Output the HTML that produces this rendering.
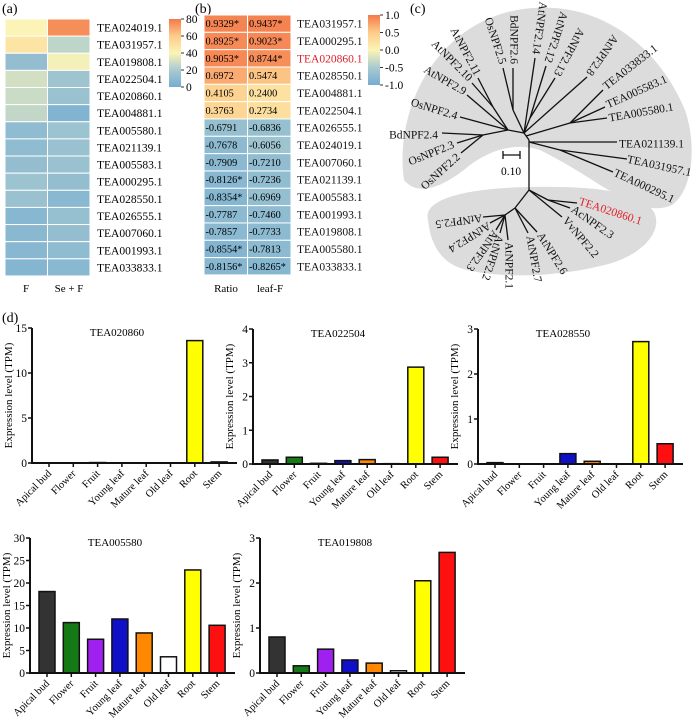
<!DOCTYPE html>
<html><head><meta charset="utf-8"><style>
html,body{margin:0;padding:0;background:#fff;}
svg{display:block;font-family:"Liberation Serif",serif;}
</style></head><body>
<svg id="fig" width="693" height="720" viewBox="0 0 693 720" xmlns="http://www.w3.org/2000/svg">
<defs>
<linearGradient id="cbar" x1="0" y1="1" x2="0" y2="0">
<stop offset="0" stop-color="#74add1"/><stop offset="0.25" stop-color="#a9cad0"/><stop offset="0.5" stop-color="#fbf4b6"/><stop offset="0.75" stop-color="#fdcc8a"/><stop offset="1" stop-color="#f4794a"/>
</linearGradient>
</defs>
<text x="2" y="13" font-size="14">(a)</text>
<text x="195" y="13" font-size="14">(b)</text>
<text x="410" y="13" font-size="14">(c)</text>
<text x="2" y="322" font-size="14">(d)</text>
<g id="ha"></g>
<g id="hb"></g>
<g id="tree"></g>
<g id="bars"></g>
</svg>
<script>
const NS="http://www.w3.org/2000/svg";
function mk(tag,attrs,parent,txt){const e=document.createElementNS(NS,tag);for(const k in attrs)e.setAttribute(k,attrs[k]);if(txt!==undefined)e.textContent=txt;parent.appendChild(e);return e;}
// ---------- heatmap data ----------
const genesA=["TEA024019.1","TEA031957.1","TEA019808.1","TEA022504.1","TEA020860.1","TEA004881.1","TEA005580.1","TEA021139.1","TEA005583.1","TEA000295.1","TEA028550.1","TEA026555.1","TEA007060.1","TEA001993.1","TEA033833.1"];
const valsF=[40,48,12,30,28,26,10,10,12,15,14,7,8,7,6];
const valsSeF=[75,25,38,16,14,5,15,14,14,12,8,13,12,10,8];
const genesB=["TEA031957.1","TEA000295.1","TEA020860.1","TEA028550.1","TEA004881.1","TEA022504.1","TEA026555.1","TEA024019.1","TEA007060.1","TEA021139.1","TEA005583.1","TEA001993.1","TEA019808.1","TEA005580.1","TEA033833.1"];
const ratioVals=[0.9329,0.8925,0.9053,0.6972,0.4105,0.3763,-0.6791,-0.7678,-0.7909,-0.8126,-0.8354,-0.7787,-0.7857,-0.8554,-0.8156];
const ratioSig=[1,1,1,0,0,0,0,0,0,1,1,0,0,1,1];
const leafVals=[0.9437,0.9023,0.8744,0.5474,0.2400,0.2734,-0.6836,-0.6056,-0.7210,-0.7236,-0.6969,-0.7460,-0.7733,-0.7813,-0.8265];
const leafSig=[1,1,1,0,0,0,0,0,0,0,0,0,0,0,1];
const cbarATicks=[0,20,40,60,80];
const cbarBTicks=["-1.0","-0.5","0.0","0.5","1.0"];
const stops=[[0,[116,173,209]],[0.25,[169,202,208]],[0.5,[251,244,182]],[0.75,[253,204,138]],[1,[244,121,74]]];
function cmap(t){t=Math.max(0,Math.min(1,t));for(let i=1;i<stops.length;i++){if(t<=stops[i][0]){const a=stops[i-1],b=stops[i];const f=(t-a[0])/(b[0]-a[0]);const c=a[1].map((v,j)=>Math.round(v+(b[1][j]-v)*f));return `rgb(${c})`;}}return "rgb(244,121,74)";}
// heatmap a
(function(){
 const g=document.getElementById('ha');const y0=19,rh=17.13,x0=5,cw=42.5;
 genesA.forEach((gname,i)=>{
  [valsF[i],valsSeF[i]].forEach((v,j)=>{
   const r=mk('rect',{x:x0+j*cw,y:y0+i*rh,width:cw,height:rh,fill:cmap(v/80),stroke:'#fff','stroke-width':1},g);
   
   
  });
  const t=mk('text',{x:97,y:y0+i*rh+rh/2+4,'font-size':11.5},g,gname);
  
  
 });
 const c1=mk('text',{x:26,y:292,'font-size':11,'text-anchor':'middle'},g,'F');
 
 const c2=mk('text',{x:69,y:292,'font-size':11,'text-anchor':'middle'},g,'Se + F');
 
 const cb=mk('rect',{x:169,y:19,width:12,height:68,fill:'url(#cbar)'},g);
 
 cbarATicks.forEach(v=>{const y=87-v/80*68;mk('line',{x1:181,x2:184,y1:y,y2:y,stroke:'#333'},g);
  const t=mk('text',{x:186,y:y+4,'font-size':11.5},g,String(v));
  });
})();
// heatmap b
(function(){
 const g=document.getElementById('hb');const y0=15,rh=17.33,x0=204,cw=43.5;
 genesB.forEach((gname,i)=>{
  [[ratioVals[i],ratioSig[i]],[leafVals[i],leafSig[i]]].forEach((p,j)=>{
   const r=mk('rect',{x:x0+j*cw,y:y0+i*rh,width:cw,height:rh,fill:cmap((p[0]+1)/2),stroke:'#fff','stroke-width':1},g);
   
   
   const t=mk('text',{x:x0+j*cw+1.5,y:y0+i*rh+rh/2+3.5,'font-size':10.3},g,p[0].toFixed(4)+(p[1]?'*':''));
   
   
  });
  const t=mk('text',{x:297,y:y0+i*rh+rh/2+4,'font-size':11.5,fill:gname==='TEA020860.1'?'#e0202a':'#111'},g,gname);
  
  
 });
 const c1=mk('text',{x:226,y:292,'font-size':11,'text-anchor':'middle'},g,'Ratio');
 
 const c2=mk('text',{x:270,y:292,'font-size':11,'text-anchor':'middle'},g,'leaf-F');
 
 const cb=mk('rect',{x:368,y:15,width:12,height:70,fill:'url(#cbar)'},g);
 
 cbarBTicks.forEach((s,i)=>{const y=85-i*17.5;mk('line',{x1:380,x2:383,y1:y,y2:y,stroke:'#333'},g);
  const t=mk('text',{x:385,y:y+4,'font-size':11.5},g,s);
  });
})();
// ---------- tree ----------
(function(){
 const g=document.getElementById('tree');
 const b1=mk('path',{d:'M404,180 C398,140 410,90 440,55 C470,20 510,5 555,8 C610,12 660,50 685,110 C697,145 693,190 672,205 C650,215 625,200 600,185 C580,172 560,160 540,150 C515,142 490,150 470,165 C450,182 420,200 404,180 Z',fill:'#dcdcdc'},g);
 
 const b2=mk('path',{d:'M428,220 C422,198 470,188 530,187 C590,186 640,190 654,212 C664,232 640,258 600,266 C560,276 500,280 460,268 C438,260 430,240 428,220 Z',fill:'#dcdcdc'},g);
 
 const lines=[[529,140,529,190],[529,140,524,133],[524,133,508,130],[508,130,493,107],[493,107,478,78],[493,107,472,83],[508,130,467,95],[508,130,460,117],[508,130,483,135],[483,135,442,133],[483,135,457,143],[483,135,461,153],[524,133,513,110],[513,110,503,68],[513,110,513,68],[524,133,535,58],[524,133,530,118],[530,118,546,66],[530,118,555,78],[524,133,587,77],[526,136,570,123],[570,123,603,90],[570,123,605,107],[570,123,607,118],[529,142,617,142],[529,142,560,150],[560,150,627,159],[560,150,613,172],
 [529,190,548,200],[548,200,577,203],[548,200,570,208],[529,190,562,217],[529,190,515,208],[515,208,537,232],[515,208,528,233],[515,208,505,215],[505,215,508,240],[505,215,500,233],[505,215,496,230],[505,215,490,223],[505,215,483,217]];
 lines.forEach(l=>{const e=mk('line',{x1:l[0],y1:l[1],x2:l[2],y2:l[3],stroke:'#111','stroke-width':1.3},g);
  });
 const labels=[["OsNPF2.5",502,64,72,"end"],["BdNPF2.6",513,64,90,"end"],["AtNPF2.14",535,54,98,"end"],["AtNPF2.12",547,62,108,"end"],["AtNPF2.13",556,75,118,"end"],["AtNPF2.8",588,74,125,"end"],["AtNPF2.11",477,75,62,"end"],["AtNPF2.10",470,80,45,"end"],["AtNPF2.9",465,93,30,"end"],["OsNPF2.4",457,117,17,"end"],["BdNPF2.4",438,136,0,"end"],["OsNPF2.3",454,145,-22,"end"],["OsNPF2.2",459,156,-42,"end"],
 ["TEA033833.1",605,88,-38,"start"],["TEA005583.1",607,106,-24,"start"],["TEA005580.1",609,119,-10,"start"],["TEA021139.1",619,145,0,"start"],["TEA031957.1",627,160,12,"start"],["TEA000295.1",614,173,25,"start"],
 ["TEA020860.1",579,202,18,"start"],["AcNPF2.3",572,209,35,"start"],["VvNPF2.2",564,219,50,"start"],["AtNPF2.6",539,234,58,"start"],["AtNPF2.7",529,236,80,"start"],["AtNPF2.1",508,242,90,"start"],["AtNPF2.2",499,235,108,"start"],["AtNPF2.3",495,231,125,"start"],["AtNPF2.4",489,224,148,"start"],["AtNPF2.5",482,217,172,"start"]];
 labels.forEach(L=>{const t=mk('text',{x:L[1],y:L[2],'font-size':11.5,'text-anchor':L[4],'dominant-baseline':'middle',transform:`rotate(${L[3]} ${L[1]} ${L[2]})`,fill:L[0]==='TEA020860.1'?'#e0202a':'#111'},g,L[0]);
  });
 mk('line',{x1:503,y1:155,x2:520,y2:155,stroke:'#111','stroke-width':1.3},g);
 mk('line',{x1:503,y1:151,x2:503,y2:159,stroke:'#111','stroke-width':1.3},g);
 mk('line',{x1:520,y1:151,x2:520,y2:159,stroke:'#111','stroke-width':1.3},g);
 const s=mk('text',{x:511,y:175,'font-size':11.5,'text-anchor':'middle'},g,'0.10');
 
})();
// ---------- bar chart data ----------
const tissues=["Apical bud","Flower","Fruit","Young leaf","Mature leaf","Old leaf","Root","Stem"];
const tissueColors=["#333333","#157a15","#a020f0","#1010c8","#ff8800","#ffffff","#ffff00","#ff1010"];
const titles=["TEA020860","TEA022504","TEA028550","TEA005580","TEA019808"];
const valsTEA020860=[0,0,0.05,0,0,0,13.6,0.12];
const valsTEA022504=[0.12,0.2,0.02,0.1,0.13,0.01,2.87,0.2];
const valsTEA028550=[0.03,0,0,0.23,0.06,0,2.72,0.45];
const valsTEA005580=[18.1,11.2,7.5,12.0,8.9,3.6,22.9,10.6];
const valsTEA019808=[0.8,0.16,0.53,0.29,0.22,0.05,2.05,2.68];
const ticks1=[0,5,10,15],ticks2=[0,1,2,3,4],ticks3=[0,1,2,3],ticks4=[0,5,10,15,20,25,30],ticks5=[0,1,2,3];
(function(){
 const root=document.getElementById('bars');
 const charts=[[32,328,463,valsTEA020860,ticks1,titles[0]],[253,329,464,valsTEA022504,ticks2,titles[1]],[478,329,464,valsTEA028550,ticks3,titles[2]],[30,538,673,valsTEA005580,ticks4,titles[3]],[260,538,673,valsTEA019808,ticks5,titles[4]]];
 charts.forEach((c,ci)=>{
  const [ax,top,bot,vals,ticks,title]=c;const g=mk('g',{},root);
  
  
  const ymax=ticks[ticks.length-1];const ys=v=>bot-v/ymax*(bot-top);const xs=i=>ax+17+i*24.3;
  vals.forEach((v,i)=>{const y=ys(v);const r=mk('rect',{x:xs(i)-8,y:y,width:16,height:Math.max(bot-y,0.01),fill:tissueColors[i],stroke:'#111','stroke-width':1.5},g);
   
   });
  mk('line',{x1:ax,y1:top,x2:ax,y2:bot+1,stroke:'#111','stroke-width':2},g);
  mk('line',{x1:ax-1,y1:bot,x2:ax+205,y2:bot,stroke:'#111','stroke-width':2},g);
  ticks.forEach(v=>{const y=ys(v);mk('line',{x1:ax-4,x2:ax,y1:y,y2:y,stroke:'#111','stroke-width':1.5},g);
   const t=mk('text',{x:ax-5,y:y+4,'font-size':11.5,'text-anchor':'end'},g,String(v));
   });
  tissues.forEach((n,i)=>{const x=xs(i);mk('line',{x1:x,x2:x,y1:bot,y2:bot+4,stroke:'#111','stroke-width':1.5},g);
   const t=mk('text',{x:x+3,y:bot+11,'font-size':10.5,'text-anchor':'end',transform:`rotate(-45 ${x+3} ${bot+11})`},g,n);
   });
  const tt=mk('text',{x:ax+85,y:top+8,'font-size':11,'text-anchor':'middle'},g,title);
  
  const yc=(top+bot)/2,yx=ax-20;
  const yt=mk('text',{x:yx,y:yc,'font-size':11,'text-anchor':'middle',transform:`rotate(-90 ${yx} ${yc})`},g,'Expression level (TPM)');
  
 });
})();
</script>
</body></html>
